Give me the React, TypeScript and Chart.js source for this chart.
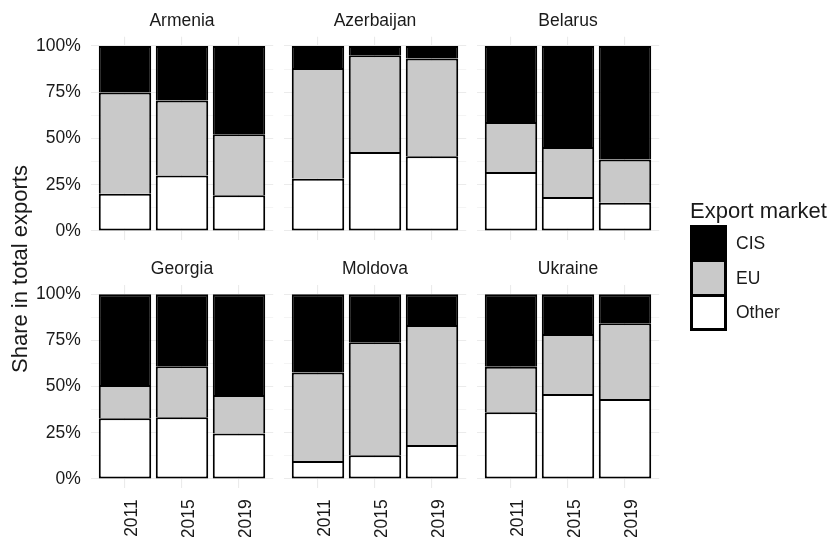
import React, { useEffect, useRef } from 'react';
import { Chart, registerables } from 'chart.js';

Chart.register(...registerables);

// ---------- data ----------
const COUNTRIES = ['Armenia', 'Azerbaijan', 'Belarus', 'Georgia', 'Moldova', 'Ukraine'];
const YEARS = ['2011', '2015', '2019'];
const MARKETS = ['CIS', 'EU', 'Other'];
// shares in % per country (rows) and year (columns)
const OTHER_SHARE = [
  [20.2, 30.0, 19.3],
  [28.3, 42.7, 40.4],
  [31.9, 18.4, 15.3],
  [32.9, 33.4, 24.7],
  [9.7, 12.8, 18.4],
  [36.1, 46.0, 43.3],
];
const EU_SHARE = [
  [54.6, 40.5, 33.0],
  [59.8, 52.3, 52.8],
  [27.0, 27.0, 23.3],
  [18.0, 27.6, 20.8],
  [47.9, 61.2, 65.0],
  [24.7, 32.5, 41.0],
];
const CIS_SHARE = [
  [25.2, 29.5, 47.7],
  [11.9, 5.0, 6.8],
  [41.1, 54.6, 61.4],
  [49.1, 39.0, 54.5],
  [42.4, 26.0, 16.6],
  [39.2, 21.5, 15.7],
];
const Y_TICKS = [0, 12.5, 25, 37.5, 50, 62.5, 75, 87.5, 100];

// ---------- style / layout ----------
const W = 830;
const H = 537;
const FONT = '"Liberation Sans", Arial, Helvetica, sans-serif';
const TEXT = '#1a1a1a';
const GRID = '#ebebeb';
const MARKET_COLORS: Record<string, string> = { CIS: '#000000', EU: '#c9c9c9', Other: '#ffffff' };
const FIRST_CENTER = [125, 318, 511];
const STEP = 57;
const ROW_ZERO = [231, 479];
const ROW_FULL = [46, 294.3];

function Panel({ idx }: { idx: number }) {
  const ref = useRef<HTMLCanvasElement>(null);
  useEffect(() => {
    const r = Math.floor(idx / 3);
    const c = idx % 3;
    const L = FIRST_CENTER[c] - 0.6 * STEP;
    const R = FIRST_CENTER[c] + 2.6 * STEP;
    const span = ROW_ZERO[r] - ROW_FULL[r];
    const T = ROW_FULL[r] - 0.05 * span;
    const B = ROW_ZERO[r] + 0.05 * span;
    const yw = c === 0 ? 60 : 0;
    const xh = r === 1 ? H - B : 0;
    const isMajor = (v: any) => typeof v === 'number' && Math.abs(v % 25) < 1e-6;
    const title = COUNTRIES[idx];

    const stripTitle = {
      id: 'stripTitle' + idx,
      afterDraw(chart: any) {
        const ctx = chart.ctx;
        const area = chart.chartArea;
        ctx.save();
        ctx.font = `17.5px ${FONT}`;
        ctx.fillStyle = TEXT;
        ctx.textAlign = 'center';
        ctx.textBaseline = 'alphabetic';
        ctx.fillText(title, (area.left + area.right) / 2, area.top - 11);
        ctx.restore();
      },
    };

    const seriesFor: Record<string, number[]> = {
      Other: OTHER_SHARE[idx],
      EU: EU_SHARE[idx],
      CIS: CIS_SHARE[idx],
    };
    const order = ['Other', 'EU', 'CIS'];

    const chart = new Chart(ref.current as HTMLCanvasElement, {
      type: 'bar',
      data: {
        datasets: order.map((m) => ({
          label: m,
          data: seriesFor[m].map((v, i) => ({ x: i, y: v })),
          backgroundColor: MARKET_COLORS[m],
          borderColor: '#000000',
          borderWidth: 2,
          borderSkipped: m === 'Other' ? false : 'start',
          barPercentage: 0.92,
          categoryPercentage: 1,
        })) as any,
      },
      options: {
        responsive: false,
        animation: false,
        devicePixelRatio: 1,
        events: [],
        layout: { padding: { left: L - yw, right: W - R, top: T, bottom: H - B - xh } },
        plugins: {
          legend: { display: false },
          tooltip: { enabled: false },
          title: { display: false },
        },
        scales: {
          x: {
            type: 'linear',
            stacked: true,
            offset: false,
            min: -0.6,
            max: 2.6,
            afterBuildTicks: (s: any) => {
              s.ticks = YEARS.map((_, i) => ({ value: i }));
            },
            afterFit: (s: any) => {
              s.height = xh;
            },
            grid: { offset: false, color: GRID, lineWidth: 1.1, drawTicks: false, tickLength: 0 },
            border: { display: false },
            ticks: {
              display: r === 1,
              autoSkip: false,
              minRotation: 90,
              maxRotation: 90,
              padding: 11,
              labelOffset: 7,
              color: TEXT,
              font: { family: FONT, size: 17.5 },
              callback: (v: any) => YEARS[Math.round(Number(v))],
            },
          },
          y: {
            type: 'linear',
            stacked: true,
            min: -5,
            max: 105,
            afterBuildTicks: (s: any) => {
              s.ticks = Y_TICKS.map((v) => ({ value: v }));
            },
            afterFit: (s: any) => {
              s.width = yw;
            },
            grid: {
              color: GRID,
              lineWidth: (ctx: any) => (ctx.tick && isMajor(ctx.tick.value) ? 1.1 : 0.55),
              drawTicks: false,
              tickLength: 0,
            },
            border: { display: false },
            ticks: {
              display: c === 0,
              autoSkip: false,
              padding: 10,
              color: TEXT,
              font: { family: FONT, size: 17.5 },
              callback: (v: any) => (isMajor(Number(v)) ? `${v}%` : ''),
            },
          },
        },
      } as any,
      plugins: [stripTitle],
    });
    return () => chart.destroy();
  }, [idx]);
  return (
    <canvas
      ref={ref}
      width={W}
      height={H}
      style={{ position: 'absolute', left: 0, top: 0, width: W, height: H }}
    />
  );
}

export default function App() {
  const keyPitch = 34.56;
  const keyTop = 226;
  return (
    <div
      style={{
        position: 'absolute',
        left: 0,
        top: 0,
        width: W,
        height: H,
        background: '#ffffff',
        overflow: 'hidden',
        fontFamily: FONT,
        color: TEXT,
      }}
    >
      {COUNTRIES.map((_, i) => (
        <Panel key={i} idx={i} />
      ))}
      <div
        style={{
          position: 'absolute',
          left: 19.8 - 150,
          top: 269 - 11,
          width: 300,
          height: 22,
          lineHeight: '22px',
          fontSize: 22,
          textAlign: 'center',
          whiteSpace: 'nowrap',
          transform: 'rotate(-90deg)',
          transformOrigin: 'center center',
        }}
      >
        Share in total exports
      </div>
      <div
        style={{
          position: 'absolute',
          left: 690,
          top: 200,
          lineHeight: '22px',
          fontSize: 22,
          whiteSpace: 'nowrap',
        }}
      >
        Export market
      </div>
      {MARKETS.map((m, i) => (
        <React.Fragment key={m}>
          <div
            style={{
              position: 'absolute',
              left: 691 - 1.5,
              top: keyTop + i * keyPitch - 1.5,
              width: keyPitch + 3,
              height: keyPitch + 3,
              boxSizing: 'border-box',
              border: '3px solid #000',
              background: MARKET_COLORS[m],
            }}
          />
          <div
            style={{
              position: 'absolute',
              left: 736,
              top: keyTop + (i + 0.5) * keyPitch - 10,
              lineHeight: '20px',
              fontSize: 17.5,
              whiteSpace: 'nowrap',
            }}
          >
            {m}
          </div>
        </React.Fragment>
      ))}
    </div>
  );
}
